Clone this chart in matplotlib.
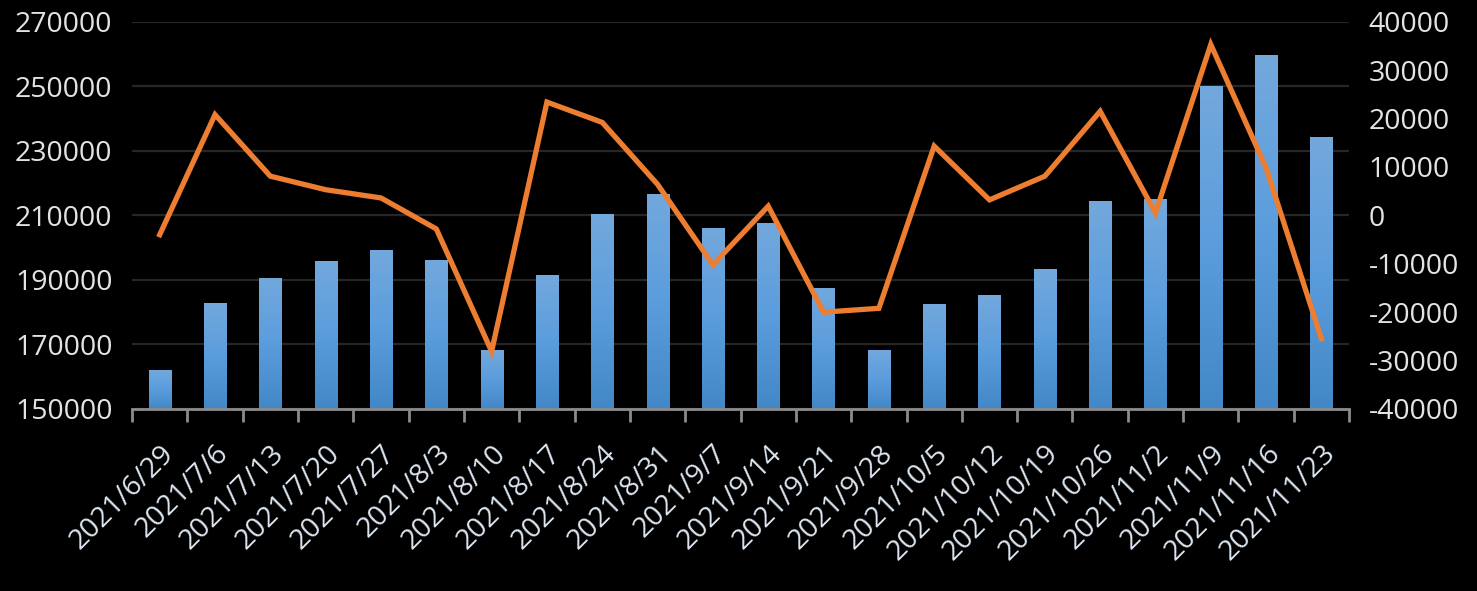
import numpy as np
import matplotlib.pyplot as plt
from matplotlib.colors import LinearSegmentedColormap

plt.rcParams['font.family'] = ['Open Sans', 'DejaVu Sans']
plt.rcParams['axes.unicode_minus'] = False

dates = ['2021/6/29', '2021/7/6', '2021/7/13', '2021/7/20', '2021/7/27', '2021/8/3',
         '2021/8/10', '2021/8/17', '2021/8/24', '2021/8/31', '2021/9/7', '2021/9/14',
         '2021/9/21', '2021/9/28', '2021/10/5', '2021/10/12', '2021/10/19', '2021/10/26',
         '2021/11/2', '2021/11/9', '2021/11/16', '2021/11/23']
totals = [162100, 182900, 190600, 195900, 199300, 196200, 168300, 191500, 210500, 216700,
          206100, 207700, 187500, 168300, 182600, 185300, 193400, 214500, 215100, 250100,
          259700, 234300]
changes = [-4000, 20800, 8100, 5300, 3600, -2800, -28100, 23400, 19200, 6400, -10200, 1900,
           -20000, -19200, 14300, 3200, 8100, 21500, 500, 35300, 9800, -25500]

fig = plt.figure(figsize=(14.77, 5.91), dpi=100, facecolor='black')
ax = fig.add_axes([0.0894, 0.308, 0.824, 0.6552])
ax.set_facecolor('black')

x = np.arange(len(dates))
w = 0.4
bars = ax.bar(x, np.array(totals) - 150000, w, bottom=150000, color='#5b9bd5', zorder=2)

# vertical gradient inside each bar, lighter at top
grad = np.linspace(0, 1, 256).reshape(-1, 1)
cmap = LinearSegmentedColormap.from_list('bar', ['#4287c6', '#5b9ddc', '#73a8dd'])
for b in bars:
    bx, by = b.get_x(), b.get_y()
    im = ax.imshow(grad, extent=[bx, bx + b.get_width(), by, by + b.get_height()],
                   origin='lower', aspect='auto', cmap=cmap, zorder=2.5)
    im.set_clip_path(b)

ax.set_xlim(-0.5, len(dates) - 0.5)
ax.set_ylim(150000, 270000)
ax.set_yticks(np.arange(150000, 270001, 20000))
ax.yaxis.grid(True, color='#262626', lw=1.6, zorder=0)
ax.set_axisbelow(True)
ax.tick_params(axis='y', length=0, pad=14, labelsize=20.5, labelcolor='#e3e3e3')

ax.set_xticks(x)
ax.set_xticklabels(dates, rotation=45, ha='right', rotation_mode='anchor',
                   fontsize=20.5, color='#dce6f1')
ax.set_xticks(np.arange(-0.5, len(dates), 1), minor=True)
ax.tick_params(axis='x', which='major', length=0, pad=22)
ax.tick_params(axis='x', which='minor', length=9, width=2, color='#8c8c8c')

for s in ['top', 'left', 'right']:
    ax.spines[s].set_visible(False)
ax.spines['bottom'].set_color('#8c8c8c')
ax.spines['bottom'].set_linewidth(2)
ax.spines['bottom'].set_zorder(3)

ax2 = ax.twinx()
ax2.plot(x, changes, color='#ed7d31', lw=3.8, solid_joinstyle='miter', zorder=4)
ax2.set_ylim(-40000, 40000)
ax2.set_yticks(np.arange(-40000, 40001, 10000))
ax2.tick_params(axis='y', length=0, pad=14, labelsize=20.5, labelcolor='#e3e3e3')
for s in ['top', 'left', 'right', 'bottom']:
    ax2.spines[s].set_visible(False)

fig.savefig('out.png', dpi=100, facecolor='black')
